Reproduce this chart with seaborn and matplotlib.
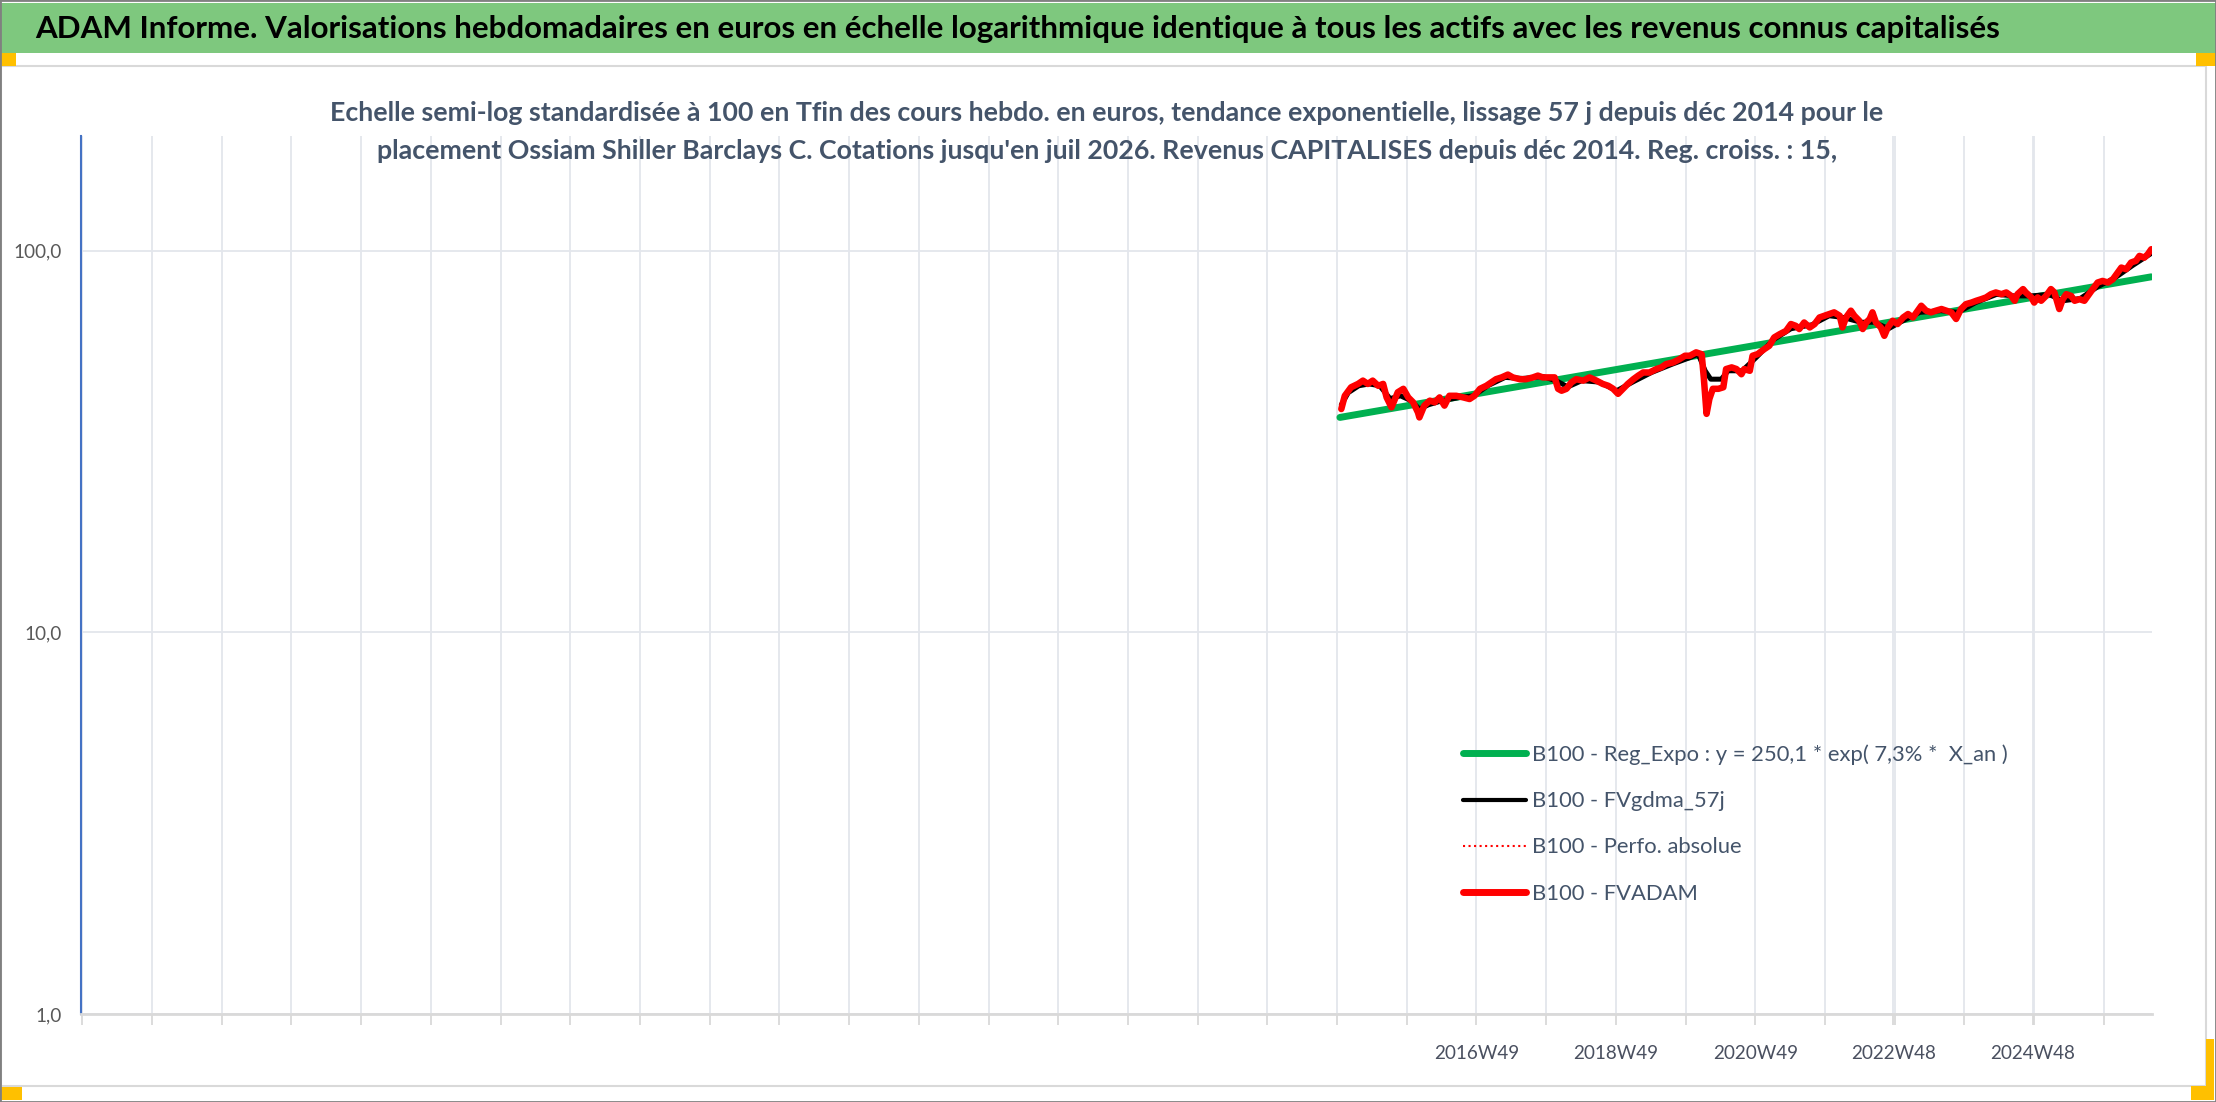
import pandas as pd
import seaborn as sns
import matplotlib
matplotlib.use("Agg")
from matplotlib import pyplot as plt
from matplotlib.patches import Rectangle
from matplotlib.lines import Line2D

# Values (x = decimal year, y = base-100 value, log scale)
adam_x = [2015.00, 2015.05, 2015.14, 2015.24, 2015.31, 2015.38, 2015.45, 2015.53, 2015.60, 2015.65,
          2015.72, 2015.81, 2015.89, 2015.96, 2016.03, 2016.10, 2016.12, 2016.19, 2016.27, 2016.34,
          2016.41, 2016.48, 2016.55, 2016.65, 2016.75, 2016.84, 2016.91, 2016.99, 2017.08, 2017.15,
          2017.22, 2017.30, 2017.39, 2017.46, 2017.56, 2017.65, 2017.75, 2017.82, 2017.89, 2017.99,
          2018.06, 2018.11, 2018.16, 2018.23, 2018.30, 2018.37, 2018.47, 2018.56, 2018.66, 2018.75,
          2018.83, 2018.90, 2018.97, 2019.04, 2019.11, 2019.19, 2019.26, 2019.33, 2019.42, 2019.52,
          2019.59, 2019.66, 2019.76, 2019.85, 2019.93, 2020.00, 2020.09, 2020.17, 2020.20, 2020.24,
          2020.28, 2020.33, 2020.41, 2020.48, 2020.52, 2020.60, 2020.67, 2020.74, 2020.78, 2020.86,
          2020.90, 2020.97, 2021.07, 2021.14, 2021.21, 2021.29, 2021.38, 2021.45, 2021.52, 2021.57,
          2021.64, 2021.72, 2021.79, 2021.86, 2021.93, 2022.00, 2022.07, 2022.15, 2022.19, 2022.24,
          2022.31, 2022.36, 2022.43, 2022.48, 2022.53, 2022.58, 2022.62, 2022.67, 2022.74, 2022.79,
          2022.84, 2022.91, 2022.98, 2023.06, 2023.13, 2023.20, 2023.27, 2023.32, 2023.39, 2023.46,
          2023.53, 2023.61, 2023.68, 2023.75, 2023.82, 2023.89, 2023.96, 2024.04, 2024.11, 2024.18,
          2024.25, 2024.32, 2024.39, 2024.47, 2024.54, 2024.61, 2024.66, 2024.70, 2024.78, 2024.82,
          2024.90, 2024.94, 2024.99, 2025.04, 2025.11, 2025.18, 2025.23, 2025.30, 2025.35, 2025.40,
          2025.47, 2025.52, 2025.59, 2025.66, 2025.71, 2025.78, 2025.85, 2025.92, 2026.00, 2026.07,
          2026.14, 2026.19, 2026.26, 2026.33, 2026.40, 2026.45, 2026.52, 2026.57, 2026.62]
adam_y = [38.5, 41.7, 43.9, 44.8, 45.7, 44.8, 45.7, 44.3, 44.8, 41.3,
          38.9, 42.6, 43.5, 41.3, 40.1, 37.7, 36.6, 39.3, 40.5, 40.1,
          41.3, 39.3, 41.7, 41.7, 41.3, 40.9, 41.7, 43.5, 44.3, 45.2,
          46.1, 46.6, 47.4, 46.6, 46.1, 46.1, 46.6, 47.1, 46.6, 46.6,
          46.6, 43.5, 43.0, 43.5, 45.2, 46.1, 45.7, 46.6, 45.7, 44.8,
          44.3, 43.5, 42.2, 43.5, 44.8, 46.1, 47.1, 48.0, 48.0, 49.0,
          49.5, 50.5, 51.0, 52.0, 53.1, 53.1, 54.2, 53.6, 46.6, 37.4,
          40.9, 43.5, 43.5, 43.9, 49.0, 49.5, 49.0, 47.5, 49.0, 48.5,
          53.1, 53.6, 55.3, 56.4, 59.3, 60.5, 61.7, 64.3, 63.6, 62.4,
          64.9, 63.0, 64.3, 66.9, 67.6, 68.3, 69.0, 67.6, 63.0, 66.9,
          69.7, 67.6, 65.6, 62.4, 64.9, 66.3, 69.0, 64.9, 63.0, 59.9,
          63.0, 65.6, 64.3, 66.9, 68.3, 66.9, 69.7, 71.8, 69.7, 69.0,
          69.7, 70.4, 69.7, 69.0, 66.3, 70.4, 72.5, 73.2, 74.0, 74.7,
          75.5, 77.0, 77.8, 77.0, 77.8, 76.2, 74.0, 77.0, 79.4, 77.8,
          75.5, 73.2, 75.5, 74.0, 76.2, 79.4, 77.8, 70.4, 74.7, 77.0,
          76.2, 74.0, 74.7, 74.0, 76.2, 79.4, 82.6, 83.4, 82.6, 84.3,
          87.8, 90.4, 89.5, 93.2, 94.2, 97.0, 96.0, 98.0, 101.0]

gdma_x = [2015.00, 2015.10, 2015.25, 2015.40, 2015.55, 2015.70, 2015.85, 2016.00, 2016.12, 2016.25,
          2016.45, 2016.70, 2016.90, 2017.10, 2017.35, 2017.60, 2017.90, 2018.10, 2018.25, 2018.45,
          2018.70, 2018.95, 2019.20, 2019.45, 2019.75, 2020.00, 2020.12, 2020.22, 2020.30, 2020.45,
          2020.55, 2020.75, 2020.95, 2021.20, 2021.45, 2021.75, 2022.00, 2022.20, 2022.45, 2022.65,
          2022.85, 2023.05, 2023.30, 2023.60, 2023.85, 2024.10, 2024.40, 2024.65, 2024.90, 2025.15,
          2025.35, 2025.60, 2025.85, 2026.10, 2026.35, 2026.62]
gdma_y = [39.5, 42.5, 44.3, 44.8, 44.3, 41.0, 41.7, 40.5, 38.5, 39.5,
          40.5, 41.3, 41.7, 44.3, 46.6, 46.3, 46.8, 45.5, 44.0, 45.7,
          45.3, 43.0, 45.5, 48.0, 50.5, 52.5, 53.6, 48.5, 46.1, 46.1,
          48.5, 48.5, 52.5, 58.5, 62.5, 64.0, 67.6, 66.9, 65.0, 65.0,
          62.5, 65.5, 69.0, 69.7, 69.0, 73.2, 76.9, 76.2, 76.2, 76.9,
          74.0, 75.0, 80.5, 85.0, 91.5, 98.5]

reg_x = [2014.98, 2026.62]
reg_y = [36.6, 85.5]

series_labels = ["B100 - Reg_Expo : y = 250,1 * exp( 7,3% *  X_an )",
                 "B100 - FVgdma_57j",
                 "B100 - Perfo. absolue",
                 "B100 - FVADAM"]
week_labels = ["2016W49", "2018W49", "2020W49", "2022W48", "2024W48"]
y_ticks = [1, 10, 100]
y_ticklabels = ["1,0", "10,0", "100,0"]

title = ("ADAM Informe. Valorisations hebdomadaires en euros en échelle logarithmique "
         "identique à tous les actifs avec les revenus connus capitalisés")
subtitle1 = ("Echelle semi-log standardisée à 100 en Tfin des cours hebdo. en euros, tendance "
             "exponentielle, lissage 57 j depuis déc 2014 pour le")
subtitle2 = ("placement Ossiam Shiller Barclays C. Cotations jusqu'en juil 2026. Revenus "
             "CAPITALISES depuis déc 2014. Reg. croiss. : 15,")

sns.set_theme(style="white")
plt.rcParams["font.family"] = ["Lato", "DejaVu Sans"]

W, H = 2216, 1102
fig = plt.figure(figsize=(W / 100, H / 100), dpi=100)
fig.patch.set_facecolor("white")
renderer = fig.canvas.get_renderer()


def fy(y):
    return 1 - y / H


def fit(text, width_px, weight="normal", base=20):
    # font size that gives the text the wanted pixel width
    t = fig.text(0, 0, text, fontsize=base, fontweight=weight)
    w = t.get_window_extent(renderer).width
    t.remove()
    return base * width_px / w


# banner, frame and the little orange handles
fig.add_artist(Rectangle((0, fy(53)), 1, 50 / H, transform=fig.transFigure,
                         facecolor="#7EC87E", edgecolor="none"))
fig.add_artist(Rectangle((1 / W, fy(1086)), 2205 / W, 1020 / H, transform=fig.transFigure,
                         facecolor="none", edgecolor="#D9D9D9", lw=1.5))
for x0, y0, w, h in [(0, 53, 16, 13), (2196, 53, 20, 13), (0, 1087, 22, 13),
                     (2206, 1039, 8, 61), (2191, 1086, 23, 14)]:
    fig.add_artist(Rectangle((x0 / W, fy(y0 + h)), w / W, h / H, transform=fig.transFigure,
                             facecolor="#FFC000", edgecolor="none"))
fig.add_artist(Rectangle((0, 0), 1, 1, transform=fig.transFigure,
                         facecolor="none", edgecolor="#808080", lw=2))

fs = fit(title, 1960, "bold")
fig.text(35 / W, fy(29), title, fontsize=fs, fontweight="bold", color="black",
         ha="left", va="center")

fs = fit(subtitle1, 1558, "bold")
fig.text(0.4995, fy(121), subtitle1, fontsize=fs, fontweight="bold", color="#44546A",
         ha="center", va="baseline")
fig.text(0.4995, fy(159), subtitle2, fontsize=fs, fontweight="bold", color="#44546A",
         ha="center", va="baseline")

# plot
ax = fig.add_axes([81 / W, fy(1014), 2071 / W, 878 / H])
ax.set_facecolor("white")
sns.lineplot(x=reg_x, y=reg_y, ax=ax, color="#00B050", lw=5, zorder=3)
sns.lineplot(x=gdma_x, y=gdma_y, ax=ax, color="black", lw=3.6, zorder=4)
sns.lineplot(x=adam_x, y=adam_y, ax=ax, color="red", lw=1.2, ls=":", zorder=4.5)
sns.lineplot(x=adam_x, y=adam_y, ax=ax, color="#FF0000", lw=4.7, zorder=5)

ax.set_yscale("log")
ax.set_xlim(1996.92, 2026.63)
ax.set_ylim(1, 200)
ax.set_xlabel("")
ax.set_ylabel("")

grid_x = [yr + 49 / 52.18 for yr in range(1996, 2026)]
label_x = [int(s[:4]) + int(s[5:]) / 52.18 for s in week_labels]
ax.set_xticks(label_x)
ax.set_xticklabels(week_labels)
ax.set_xticks(grid_x, minor=True)
ax.set_yticks(y_ticks)
ax.set_yticklabels(y_ticklabels)
ax.yaxis.set_minor_locator(plt.NullLocator())

ax.xaxis.grid(True, which="both", color="#E3E6EC", lw=1.3)
ax.yaxis.grid(True, which="major", color="#E3E6EC", lw=1.3)
ax.set_axisbelow(True)

for side in ["top", "right"]:
    ax.spines[side].set_visible(False)
ax.spines["left"].set_color("#4472C4")
ax.spines["left"].set_linewidth(1.5)
ax.spines["bottom"].set_color("#D9D9D9")
ax.spines["bottom"].set_linewidth(2)

tfs = fit("2016W49", 85)
ax.tick_params(axis="x", which="both", length=8, width=1.3, color="#D9D9D9",
               direction="out", bottom=True)
ax.tick_params(axis="x", which="major", labelsize=tfs, labelcolor="#4A5060", pad=14)
ax.tick_params(axis="y", length=0, labelsize=tfs, labelcolor="#595959", pad=14)

lfs = fit(series_labels[0], 475)
lpx = lfs * 100 / 72
handles = [Line2D([], [], color="#00B050", lw=5, solid_capstyle="round"),
           Line2D([], [], color="black", lw=3, solid_capstyle="round"),
           Line2D([], [], color="red", lw=1.5, ls=":"),
           Line2D([], [], color="red", lw=5, solid_capstyle="round")]
ax.legend(handles, series_labels, loc="center left",
          bbox_to_anchor=(1463 / W, fy(824)), bbox_transform=fig.transFigure,
          frameon=False, fontsize=lfs, labelcolor="#44546A",
          handlelength=63 / lpx, handletextpad=6 / lpx,
          labelspacing=(52.5 - 1.2 * lpx) / lpx, borderpad=0, borderaxespad=0)

fig.savefig("out.png", dpi=100)
